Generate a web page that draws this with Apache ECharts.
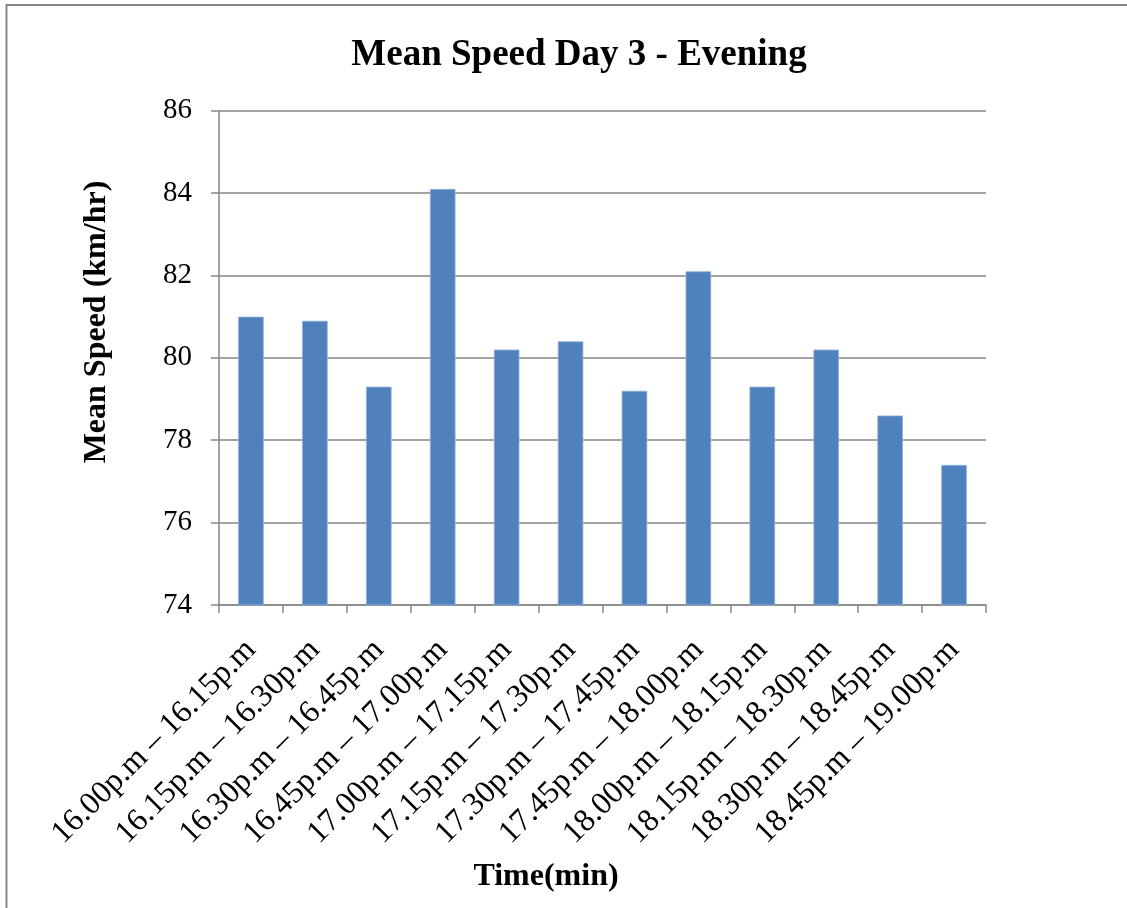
<!DOCTYPE html>
<html>
<head>
<meta charset="utf-8">
<script src="https://cdn.jsdelivr.net/npm/echarts@6/dist/echarts.min.js"></script>
<style>
  html, body { margin: 0; padding: 0; background: #ffffff; }
  #chart { width: 1127px; height: 908px; }
</style>
</head>
<body>
<div id="chart"></div>
<script>
// Fifteen-minute intervals for the evening survey period
const timeIntervals = [
  '16.00p.m \u2013 16.15p.m',
  '16.15p.m \u2013 16.30p.m',
  '16.30p.m \u2013 16.45p.m',
  '16.45p.m \u2013 17.00p.m',
  '17.00p.m \u2013 17.15p.m',
  '17.15p.m \u2013 17.30p.m',
  '17.30p.m \u2013 17.45p.m',
  '17.45p.m \u2013 18.00p.m',
  '18.00p.m \u2013 18.15p.m',
  '18.15p.m \u2013 18.30p.m',
  '18.30p.m \u2013 18.45p.m',
  '18.45p.m \u2013 19.00p.m'
];

// Mean speed (km/hr) in each interval
const meanSpeed = [81.0, 80.9, 79.3, 84.1, 80.2, 80.4, 79.2, 82.1, 79.3, 80.2, 78.6, 77.4];

// Value axis range and step
const speedMin = 74;
const speedMax = 86;
const speedStep = 2;

const chartTitle = 'Mean Speed Day 3 - Evening';
const xAxisTitle = 'Time(min)';
const yAxisTitle = 'Mean Speed (km/hr)';

const serif = '"Liberation Serif", "Times New Roman", serif';
const axisGray = '#868686';

const chart = echarts.init(document.getElementById('chart'), null, { renderer: 'canvas' });

chart.setOption({
  backgroundColor: '#ffffff',
  animation: false,
  grid: {
    left: 219,
    right: 141,
    top: 110.7,
    bottom: 303,
    containLabel: false
  },
  xAxis: {
    type: 'category',
    data: timeIntervals,
    boundaryGap: true,
    axisLine: { show: true, lineStyle: { color: axisGray, width: 1.5 } },
    axisTick: { show: true, length: 8, alignWithLabel: false, lineStyle: { color: axisGray, width: 1.5 } },
    axisLabel: {
      interval: 0,
      rotate: 45,
      margin: 40,
      fontFamily: serif,
      fontSize: 32,
      color: '#000000'
    },
    splitLine: { show: false }
  },
  yAxis: {
    type: 'value',
    min: speedMin,
    max: speedMax,
    interval: speedStep,
    axisLine: { show: true, lineStyle: { color: axisGray, width: 1.5 } },
    axisTick: { show: true, length: 8, lineStyle: { color: axisGray, width: 1.5 } },
    axisLabel: {
      margin: 27,
      fontFamily: serif,
      fontSize: 29,
      color: '#000000'
    },
    splitLine: { show: true, lineStyle: { color: axisGray, width: 1.5 } }
  },
  series: [{
    type: 'bar',
    data: meanSpeed,
    barWidth: '40%',
    itemStyle: {
      color: '#4F81BD',
      borderColor: '#8FB0DA',
      borderWidth: 0.8
    }
  }],
  graphic: [
    {
      // chart-area frame
      type: 'rect',
      silent: true,
      shape: { x: 6.5, y: 5, width: 1200, height: 1000 },
      style: { fill: null, stroke: '#878787', lineWidth: 2 }
    },
    {
      // chart title
      type: 'text',
      silent: true,
      x: 579,
      y: 37,
      style: {
        text: chartTitle,
        x: 0,
        y: 0,
        textAlign: 'center',
        textVerticalAlign: 'top',
        fontFamily: serif,
        fontWeight: 'bold',
        fontSize: 37,
        fill: '#000000'
      }
    },
    {
      // category axis title
      type: 'text',
      silent: true,
      x: 546,
      y: 893,
      style: {
        text: xAxisTitle,
        x: 0,
        y: 0,
        textAlign: 'center',
        textVerticalAlign: 'bottom',
        fontFamily: serif,
        fontWeight: 'bold',
        fontSize: 32,
        fill: '#000000'
      }
    },
    {
      // value axis title
      type: 'text',
      silent: true,
      x: 97,
      y: 322,
      rotation: Math.PI / 2,
      style: {
        text: yAxisTitle,
        x: 0,
        y: 0,
        textAlign: 'center',
        textVerticalAlign: 'middle',
        fontFamily: serif,
        fontWeight: 'bold',
        fontSize: 32,
        fill: '#000000'
      }
    }
  ]
});
</script>
</body>
</html>
